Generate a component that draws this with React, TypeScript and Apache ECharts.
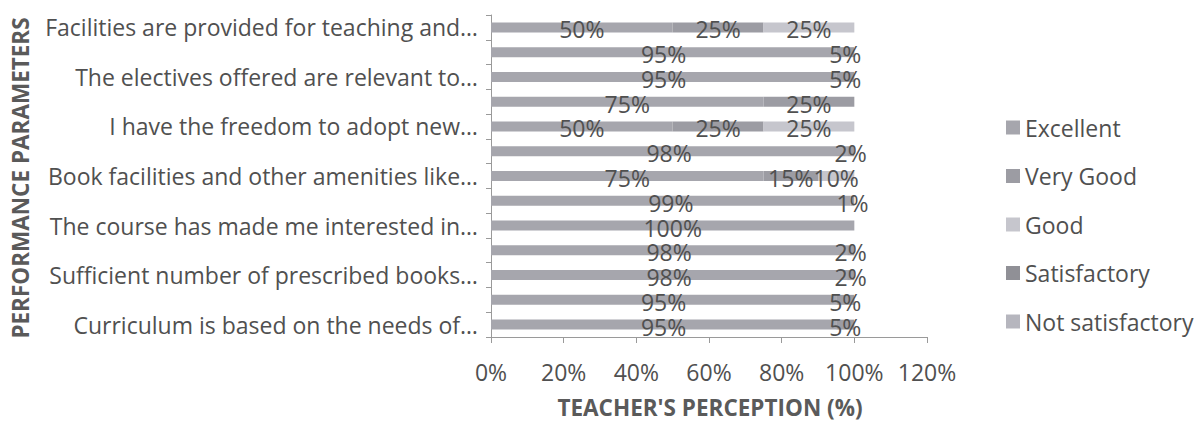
import React, { useEffect, useRef } from "react";
import * as echarts from "echarts";

// bottom -> top
const categories: string[] = [
  "Curriculum is based on the needs of…",
  "",
  "Sufficient number of prescribed books…",
  "",
  "The course has made me interested in…",
  "",
  "Book facilities and other amenities like…",
  "",
  "I have the freedom to adopt new…",
  "",
  "The electives offered are relevant to…",
  "",
  "Facilities are provided for teaching and…",
];

const seriesNames: string[] = ["Excellent", "Very Good", "Good", "Satisfactory", "Not satisfactory"];

const excellent: number[] = [95, 95, 98, 98, 100, 99, 75, 98, 50, 75, 95, 95, 50];
const veryGood: number[] = [5, 5, 2, 2, 0, 1, 15, 2, 25, 25, 5, 5, 25];
const good: number[] = [0, 0, 0, 0, 0, 0, 10, 0, 25, 0, 0, 0, 25];
const satisfactory: number[] = [0, 0, 0, 0, 0, 0, 0, 0, 0, 0, 0, 0, 0];
const notSatisfactory: number[] = [0, 0, 0, 0, 0, 0, 0, 0, 0, 0, 0, 0, 0];

const xTicks: number[] = [0, 20, 40, 60, 80, 100, 120];

const colors = ["#a6a6ad", "#9c9ca3", "#c6c6cd", "#909096", "#b6b6be"];

const FONT = "Open Sans";
const TEXT = "#505050";

export default function App() {
  const ref = useRef<HTMLDivElement>(null);
  useEffect(() => {
    if (!ref.current) return;
    const chart = echarts.init(ref.current, undefined, { renderer: "svg" });
    const allData = [excellent, veryGood, good, satisfactory, notSatisfactory];
    const series = allData.map((d, i) => ({
      name: seriesNames[i],
      type: "bar",
      stack: "total",
      barWidth: 10,
      data: d,
      itemStyle: { color: colors[i] },
      label: {
        show: true,
        position: "inside",
        offset: [0, 2],
        color: TEXT,
        fontFamily: FONT,
        fontSize: 23,
        lineHeight: 18,
        formatter: (p: any) => (p.value ? p.value + "%" : ""),
      },
    }));
    chart.setOption({
      animation: false,
      backgroundColor: "#ffffff",
      textStyle: { fontFamily: FONT },
      grid: { left: 491, right: 269, top: 15, bottom: 86 },
      legend: {
        orient: "vertical",
        left: 1001,
        top: 111,
        itemWidth: 14,
        itemHeight: 14,
        itemGap: 25.5,
        icon: "rect",
        textStyle: { fontFamily: FONT, fontSize: 23, lineHeight: 23, color: TEXT },
        data: seriesNames,
      },
      xAxis: {
        type: "value",
        min: 0,
        max: 120,
        interval: 20,
        axisLine: { show: true, lineStyle: { color: "#9a9a9a" } },
        axisTick: { show: true, length: 6, lineStyle: { color: "#9a9a9a" } },
        splitLine: { show: false },
        axisLabel: {
          color: TEXT,
          fontSize: 23,
          fontFamily: FONT,
          margin: 23,
          formatter: (v: number) => (xTicks.includes(v) ? v + "%" : ""),
        },
      },
      yAxis: {
        type: "category",
        data: categories,
        axisLine: { show: true, lineStyle: { color: "#9a9a9a" } },
        axisTick: { show: true, interval: 0, length: 5, lineStyle: { color: "#9a9a9a" } },
        axisLabel: {
          interval: 0,
          color: TEXT,
          fontSize: 23,
          lineHeight: 23,
          fontFamily: FONT,
          margin: 13,
        },
      },
      graphic: [
        {
          type: "text",
          x: 20,
          y: 178,
          rotation: Math.PI / 2,
          style: {
            text: "PERFORMANCE PARAMETERS",
            fontFamily: FONT,
            fontWeight: "bold",
            fontSize: 22.5,
            fill: "#5a5a5a",
            align: "center",
            verticalAlign: "middle",
          },
        },
        {
          type: "text",
          x: 710,
          y: 407,
          style: {
            text: "TEACHER'S PERCEPTION (%)",
            fontFamily: FONT,
            fontWeight: "bold",
            fontSize: 22.5,
            fill: "#5a5a5a",
            align: "center",
            verticalAlign: "middle",
          },
        },
      ],
      series,
    });
    return () => chart.dispose();
  }, []);
  return (
    <div
      ref={ref}
      style={{ position: "fixed", left: 0, top: 0, width: 1196, height: 423 }}
    />
  );
}
